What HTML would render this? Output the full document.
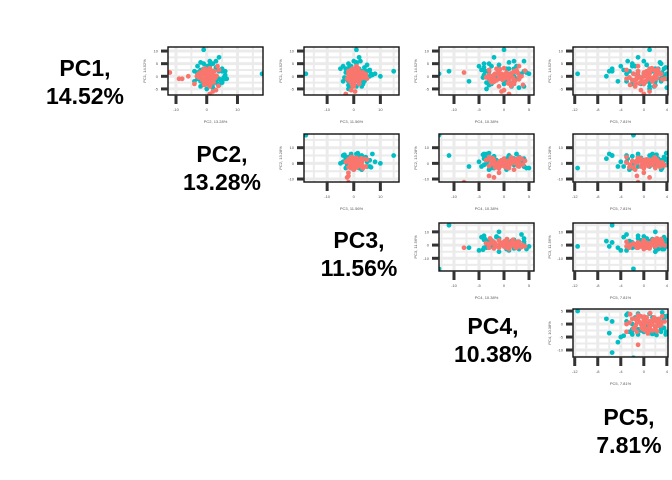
<!DOCTYPE html>
<html><head><meta charset="utf-8"><style>
html,body{margin:0;padding:0;background:#fff;}
svg{display:block;font-family:"Liberation Sans",sans-serif;}
</style></head><body>
<svg id="chart" width="672" height="480" viewBox="0 0 672 480"></svg>
<script>
const pcNames = ["PC1, 14.52%","PC2, 13.28%","PC3, 11.56%","PC4, 10.38%","PC5, 7.81%"];
const groups = [0,0,0,0,0,0,0,0,0,0,0,0,0,0,0,0,0,0,0,0,0,0,0,0,0,0,0,0,0,0,
 1,1,1,1,1,1,1,1,1,1,1,1,1,1,1,1,1,1,1,1,1,1,1,1,1,1,1,1,1,1,1,
 0,0,0,0,0,0,0,0,0,0,0,0,0,0,0,0,0,0,0,0,0,0,0,0,0,0,0,0,0,0,
 1,1,1,1,1,1,1,1,1,1,1,1,1,1,1,1,1,1,1,1];
const pc1 = [0,1,-1,2,-2,0.5,-0.5,1.5,-1.5,3,-3,0,1,-1,2,-2,-4,0.5,-0.5,1.5,4,-6,-5.5,-7,1.5,-3,2.5,-1,0,-1,
 10.5,7.5,1,2,0,5,4,3,2,0,5,1,-1,-2,2,-3,3,-1,-4,4,0,-2,1,-5,6,2,-1,3,-3,1,-2,
 0.3,-0.8,1.2,-1.6,2.4,-2.4,0.8,-0.2,1.8,-1.2,0.6,-2.8,2.8,-0.6,1,-1.8,0.2,-3.4,3.2,-1,0,1.6,-2.2,2.2,-0.4,0.9,-1.4,-3.8,1.3,-0.9,
 3.5,-3.5,2.5,-2.5,1.5,-1.5,4.5,-4.5,0.5,5.5,3,-3,2,-2,6,-0.5,1,-1,4,-4];
const pc2 = [0,-1,1,1,-1,2,-2,0.5,1.5,-0.5,0,3,-1.5,0.5,2.5,-0.5,1,-3,-2.5,-2,3.5,2,3,1,-12,-4,4,-8,-6,-9,
 -1,4,18,5,0,-1,1,5,6,3,2,-3,4,3,-2,2,3,-3,-2,-3,2,5,-1,0,1,-4,6,0,-1,1,-2,
 0.4,-0.6,1.2,-1.4,0.8,2.2,-2.2,1.8,-0.2,0.6,-1.8,1.4,-1,2.8,-2.6,0.2,3.2,-0.8,1,-1.2,-3.2,0.9,-0.4,1.6,2,-2,0,3.8,-1.6,2.4,
 3,4,-2,5,-3,4.5,1,2,6,-2,-1,3.5,4,-4,3,5.5,-2.5,6.5,0,1.5];
const pc3 = [0,1,-1,2,0,1,-1,3,0.5,-0.5,2,-1.5,0,2.5,-2,1.5,0,-1,-2,3.5,1,0.5,-1,-3,-2,0,-1,-2,-2,-2.5,
 1,2,-18,15,10,-2,-4,2,-1,3,1,-1,-3,4,5,3,-3,2,1,-1,6,-4,2.5,-2,0,3,1,-5,-1,8,-2,
 0.5,1.5,2.5,-0.5,0.2,1.8,3,0.8,-1.2,2.2,1,-0.8,0.4,4,1.2,-1.6,2.8,0,1.6,-0.2,3.4,0.6,2,-1,1.4,4.5,0.3,-0.4,2.6,5,
 4,-2,6,3,-3,2,5,-1,7,1,-2.5,3.5,4.5,0,2.5,-3.5,6.5,1.5,-1.5,3];
const pc4 = [0,1,-1,2,1,-2,3,0.5,2,-1.5,1.5,3.5,-0.5,0,2.5,-2.5,-1,1,0.5,-1,3,-0.5,0,1,-8,2,-3,-3,-1,-2,
 0,-2,-13,-11,-1,-4,-5,1,-3.5,2,-3,5,3,2,4,-3,0.5,-2,4,-2.5,-1.5,1,3,-3.5,2,-3,2.5,-1,0,3.5,-7,
 0.5,-0.5,1.5,-1.5,2.5,-2.5,0.2,1.2,-1.2,3,-3,0.8,-0.8,1.8,-1.8,2.2,-2.2,3.8,0,1,-1,2,-2,4.2,-3.6,0.6,-0.3,1.4,2.8,-2.8,
 -4,-3,-4.5,-3.5,4.5,-2,-1,3,-4,1,2,-2.5,-3.8,0.5,4,-4.2,-1.5,-3,2.5,1.5];
const pc5 = [0,1,2,-1,1.5,0.5,-0.5,2.5,-2,1,0,-1,3,-3,0.5,1.5,-1.5,2,-2.5,0,-1,1,-0.5,0,-1,-1.5,-3,-1.2,0,1,
 1,-1,-1.8,-5.5,2,-2,-4,-5.5,-6,-6.5,3,-11.5,3.5,2,-1,0,2.5,3,1,-2,3.5,-3,4,1,0,-2.5,1.5,2,-2,-3,-4.5,
 0.5,1.2,2.2,-0.4,1.8,0.2,2.8,-1.2,1,3.2,0.8,-0.8,2.4,1.6,-1.8,0.4,2,-2.4,1.4,3.6,0,2.6,-0.2,1.1,0.7,3,-1.4,1.9,0.1,2.3,
 3.8,2,-3.5,1,3.2,-2,0.5,4,-1,2.8,3.5,-0.5,1.5,3,-2.8,2.2,0,3.9,-1.5,1.8];
const pcs = [pc1,pc2,pc3,pc4,pc5];
const colXDomains = [[-12.6,18.3],[-18.7,17],[-13,6],[-12.3,4.2]];
const rowYDomains = [[-7.4,11.6],[-11.9,18.75],[-19.6,16.7],[-12.7,5.8]];
const colXTicks = [[-10,0,10],[-10,0,10],[-10,-5,0,5],[-12,-8,-4,0,4]];
const rowYTicks = [[-5,0,5,10],[-10,0,10],[-10,0,10],[-10,-5,0,5]];

const NS="http://www.w3.org/2000/svg";
const svg=document.getElementById('chart');
const plotL=[168,304,439,573], plotT=[47,134,223,309], PW=95, PH=48;
const colors=["#F8766D","#00BFC4"];
function mk(tag,attrs,parent){const e=document.createElementNS(NS,tag);for(const k in attrs)e.setAttribute(k,attrs[k]);(parent||svg).appendChild(e);return e;}

const diagPos=[[85,82],[222,168],[359,254],[493,340],[629,431]];
pcNames.forEach((n,i)=>{
  const parts=n.split(' ');
  const t=mk('text',{x:diagPos[i][0],y:diagPos[i][1]-6,'text-anchor':'middle','font-size':'23','font-weight':'bold',fill:'#000'});
  
  
  const s1=mk('tspan',{x:diagPos[i][0]},t);s1.textContent=parts[0];
  const s2=mk('tspan',{x:diagPos[i][0],dy:'28'},t);s2.textContent=parts[1];
});

for(let r=0;r<4;r++){
  for(let c=r;c<4;c++){
    const L=plotL[c],T=plotT[r];
    const xd=colXDomains[c],yd=rowYDomains[r];
    const sx=v=>L+(v-xd[0])/(xd[1]-xd[0])*PW;
    const sy=v=>T+PH-(v-yd[0])/(yd[1]-yd[0])*PH;
    const g=mk('g',{});
    
    
    mk('rect',{x:L,y:T,width:PW,height:PH,fill:'#fff'},g);
    const clip=mk('clipPath',{id:'cp'+r+c},g);
    mk('rect',{x:L,y:T,width:PW,height:PH},clip);
    const grid=mk('g',{'clip-path':'url(#cp'+r+c+')'},g);
    const xt=colXTicks[c],yt=rowYTicks[r];
    const xstep=xt[1]-xt[0],ystep=yt[1]-yt[0];
    for(let v=xt[0]-2*xstep;v<=xt[xt.length-1]+2*xstep;v+=xstep/2){
      const major=((v-xt[0])/xstep)%1===0;
      mk('line',{x1:sx(v),x2:sx(v),y1:T,y2:T+PH,stroke:'#ebebeb','stroke-width':major?3:2},grid);
    }
    for(let v=yt[0]-2*ystep;v<=yt[yt.length-1]+2*ystep;v+=ystep/2){
      const major=((v-yt[0])/ystep)%1===0;
      mk('line',{x1:L,x2:L+PW,y1:sy(v),y2:sy(v),stroke:'#ebebeb','stroke-width':major?3:2},grid);
    }
    const pts=mk('g',{'clip-path':'url(#cp'+r+c+')'},g);
    [1,0].forEach(gr=>{
      for(let i=0;i<groups.length;i++){
        if(groups[i]!==gr)continue;
        const p=mk('circle',{cx:sx(pcs[c+1][i]),cy:sy(pcs[r][i]),r:2.4,fill:colors[gr]},pts);
        
        
      }
    });
    mk('rect',{x:L,y:T,width:PW,height:PH,fill:'none',stroke:'#111','stroke-width':1.4},g);
    xt.forEach(v=>{
      mk('line',{x1:sx(v),x2:sx(v),y1:T+PH,y2:T+PH+9,stroke:'#333','stroke-width':3},g);
      const t=mk('text',{x:sx(v),y:T+PH+16,'text-anchor':'middle','font-size':'4',fill:'#555'},g);t.textContent=v;
    });
    yt.forEach(v=>{
      mk('line',{x1:L-7,x2:L,y1:sy(v),y2:sy(v),stroke:'#333','stroke-width':3},g);
      const t=mk('text',{x:L-10,y:sy(v)+1.5,'text-anchor':'end','font-size':'4',fill:'#555'},g);t.textContent=v;
    });
    const xl=mk('text',{x:L+PW/2,y:T+PH+28,'text-anchor':'middle','font-size':'4',fill:'#555'},g);
    
    
    xl.textContent=pcNames[c+1];
    const yl=mk('text',{x:0,y:0,'text-anchor':'middle','font-size':'4',fill:'#555',transform:`translate(${L-22},${T+PH/2}) rotate(-90)`},g);
    
    
    yl.textContent=pcNames[r];
  }
}
</script>
</body></html>
